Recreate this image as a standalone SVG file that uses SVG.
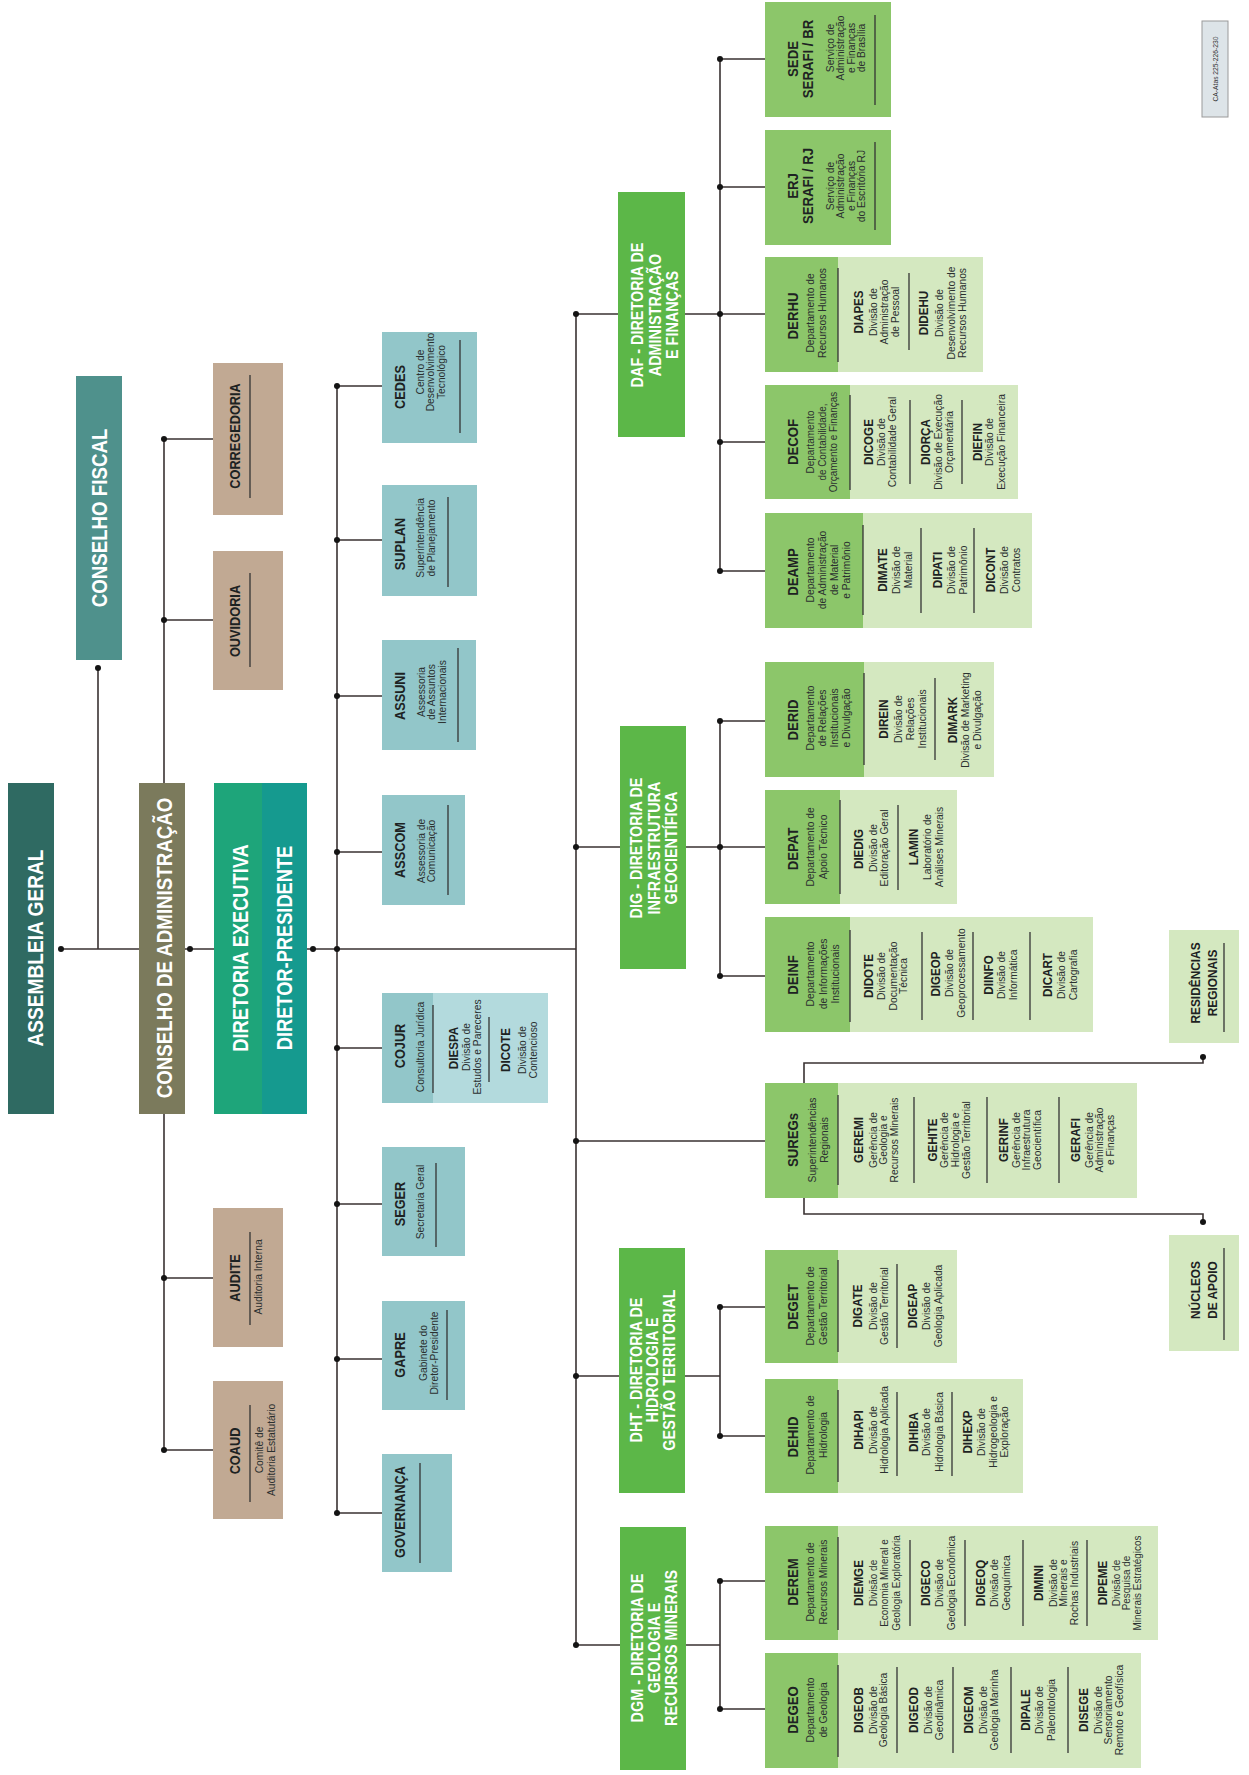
<svg xmlns="http://www.w3.org/2000/svg" width="1249" height="1775" viewBox="0 0 1249 1775">
<style>
text{font-family:"Liberation Sans",Arial,sans-serif;text-anchor:middle}
.h{font-size:22px;font-weight:bold;fill:#fff}
.dr{font-size:16px;font-weight:bold;fill:#fff}
.t1{font-size:15px;font-weight:bold;fill:#1d2222}
.t2{font-size:13.5px;font-weight:bold;fill:#1d2222}
.d{font-size:10.8px;fill:#2b3030}
.r{stroke:#333;stroke-width:1.3}
.c{stroke:#3a3232;stroke-width:1.6;fill:none}
.dot{fill:#141414}
.ag{fill:#2f6a62}.cf{fill:#4f918c}.ca{fill:#7b7a5c}
.bg{fill:#c1a993}.st{fill:#92c6c9}.st2{fill:#b3dadd}
.dg{fill:#5cb748}.dk{fill:#8cc66a}.lt{fill:#d4e8c0}
</style>
<rect width="1249" height="1775" fill="#fff"/>
<g id="connectors" class="c">
<path d="M61 949H139M98 668V949M185 949H214M164 439V783M164 1114V1450M164 439H213M164 620H213M164 1278H213M164 1450H213"/>
<path d="M307 949H576M337 386V1513M337 386H382M337 540H382M337 696H382M337 852H382M337 1048H382M337 1204H382M337 1359H382M337 1513H382"/>
<path d="M576 314V1645M576 314H618M685 314H720M576 847H620M686 847H720M576 1141H765M576 1376H619M685 1376H720M576 1645H620M686 1645H720"/>
<path d="M720 59V571M720 59H765M720 187H765M720 314H765M720 442H765M720 571H765M720 721V976M720 721H765M720 847H765M720 976H765"/>
<path d="M720 1307V1436M720 1307H765M720 1436H765M720 1581V1709M720 1581H765M720 1709H765"/>
<path d="M804 1083V1063H1203V1057M804 1198V1214H1203V1222"/>
<g class="dot" stroke="none">
<circle cx="61" cy="949" r="3"/><circle cx="98" cy="668" r="3"/><circle cx="190" cy="949" r="3"/>
<circle cx="164" cy="439" r="3"/><circle cx="164" cy="620" r="3"/><circle cx="164" cy="1278" r="3"/><circle cx="164" cy="1450" r="3"/>
<circle cx="313" cy="949" r="3"/><circle cx="337" cy="949" r="3"/>
<circle cx="337" cy="386" r="3"/><circle cx="337" cy="540" r="3"/><circle cx="337" cy="696" r="3"/><circle cx="337" cy="852" r="3"/><circle cx="337" cy="1048" r="3"/><circle cx="337" cy="1204" r="3"/><circle cx="337" cy="1359" r="3"/><circle cx="337" cy="1513" r="3"/>
<circle cx="576" cy="314" r="3"/><circle cx="576" cy="847" r="3"/><circle cx="576" cy="1141" r="3"/><circle cx="576" cy="1376" r="3"/><circle cx="576" cy="1645" r="3"/>
<circle cx="720" cy="59" r="3"/><circle cx="720" cy="187" r="3"/><circle cx="720" cy="314" r="3"/><circle cx="720" cy="442" r="3"/><circle cx="720" cy="571" r="3"/>
<circle cx="720" cy="721" r="3"/><circle cx="720" cy="847" r="3"/><circle cx="720" cy="976" r="3"/>
<circle cx="720" cy="1307" r="3"/><circle cx="720" cy="1436" r="3"/><circle cx="720" cy="1581" r="3"/><circle cx="720" cy="1709" r="3"/>
<circle cx="1203" cy="1057" r="3"/><circle cx="1203" cy="1222" r="3"/>
</g>
</g>

<g id="assembleia"><rect class="ag" x="8" y="783" width="46" height="331"/>
<text class="h" transform="translate(43,948) rotate(-90) scale(.87,1)">ASSEMBLEIA GERAL</text></g>
<g id="conselho-fiscal"><rect class="cf" x="76" y="376" width="46" height="284"/>
<text class="h" transform="translate(107,518) rotate(-90) scale(.85,1)">CONSELHO FISCAL</text></g>
<g id="conselho-adm"><rect class="ca" x="139" y="783" width="46" height="331"/>
<text class="h" transform="translate(172,948) rotate(-90) scale(.85,1)">CONSELHO DE ADMINISTRAÇÃO</text></g>
<g id="diretoria-executiva"><rect x="214" y="783" width="48" height="331" fill="#1ea57a"/><rect x="262" y="783" width="45" height="331" fill="#159a8f"/>
<text class="h" transform="translate(248,948) rotate(-90) scale(.83,1)">DIRETORIA EXECUTIVA</text>
<text class="h" transform="translate(292,948) rotate(-90) scale(.83,1)">DIRETOR-PRESIDENTE</text></g>

<g id="corregedoria"><rect class="bg" x="213" y="363" width="70" height="152"/>
<text class="t1" transform="translate(240,436) rotate(-90) scale(.85,1)">CORREGEDORIA</text><line class="r" x1="250" y1="375" x2="250" y2="498"/></g>
<g id="ouvidoria"><rect class="bg" x="213" y="551" width="70" height="139"/>
<text class="t1" transform="translate(240,621) rotate(-90) scale(.85,1)">OUVIDORIA</text><line class="r" x1="250" y1="573" x2="250" y2="667"/></g>
<g id="audite"><rect class="bg" x="213" y="1208" width="70" height="139"/>
<text class="t1" transform="translate(240,1278) rotate(-90) scale(.85,1)">AUDITE</text><line class="r" x1="250" y1="1232" x2="250" y2="1325"/>
<text class="d" transform="translate(262,1277) rotate(-90) scale(.95,1)">Auditoria Interna</text></g>
<g id="coaud"><rect class="bg" x="213" y="1381" width="70" height="138"/>
<text class="t1" transform="translate(240,1451) rotate(-90) scale(.85,1)">COAUD</text><line class="r" x1="250" y1="1405" x2="250" y2="1502"/>
<text class="d" transform="translate(263,1450) rotate(-90) scale(.95,1)"><tspan x="0" y="0">Comitê de</tspan><tspan x="0" y="12">Auditoria Estatutário</tspan></text></g>

<g id="cedes"><rect class="st" x="382" y="332" width="95" height="111"/>
<text class="t1" transform="translate(405,387) rotate(-90) scale(.85,1)">CEDES</text>
<text class="d" transform="translate(424,372) rotate(-90) scale(.95,1)"><tspan x="0" y="0">Centro de</tspan><tspan x="0" y="10.5">Desenvolvimento</tspan><tspan x="0" y="21">Tecnológico</tspan></text>
<line class="r" x1="460" y1="340" x2="460" y2="433"/></g>
<g id="suplan"><rect class="st" x="382" y="485" width="95" height="111"/>
<text class="t1" transform="translate(405,544) rotate(-90) scale(.85,1)">SUPLAN</text>
<text class="d" transform="translate(424,538) rotate(-90) scale(.95,1)"><tspan x="0" y="0">Superintendência</tspan><tspan x="0" y="11">de Planejamento</tspan></text>
<line class="r" x1="448" y1="497" x2="448" y2="587"/></g>
<g id="assuni"><rect class="st" x="382" y="640" width="94" height="110"/>
<text class="t1" transform="translate(405,696) rotate(-90) scale(.85,1)">ASSUNI</text>
<text class="d" transform="translate(425,692) rotate(-90) scale(.95,1)"><tspan x="0" y="0">Assessoria</tspan><tspan x="0" y="10.5">de Assuntos</tspan><tspan x="0" y="21">Internacionais</tspan></text>
<line class="r" x1="458" y1="648" x2="458" y2="742"/></g>
<g id="asscom"><rect class="st" x="382" y="795" width="83" height="110"/>
<text class="t1" transform="translate(405,850) rotate(-90) scale(.85,1)">ASSCOM</text>
<text class="d" transform="translate(425,851) rotate(-90) scale(.95,1)"><tspan x="0" y="0">Assessoria de</tspan><tspan x="0" y="10.5">Comunicação</tspan></text>
<line class="r" x1="448" y1="805" x2="448" y2="895"/></g>
<g id="cojur"><rect class="st" x="382" y="993" width="51" height="110"/><rect class="st2" x="433" y="993" width="115" height="110"/>
<text class="t1" transform="translate(405,1046) rotate(-90) scale(.85,1)">COJUR</text>
<text class="d" transform="translate(424,1047) rotate(-90) scale(.95,1)">Consultoria Jurídica</text>
<line class="r" x1="433" y1="1005" x2="433" y2="1093"/>
<text class="t2" transform="translate(458,1048) rotate(-90) scale(.86,1)">DIESPA</text>
<text class="d" transform="translate(470,1047) rotate(-90) scale(.95,1)"><tspan x="0" y="0">Divisão de</tspan><tspan x="0" y="11">Estudos e Pareceres</tspan></text>
<line class="r" x1="489" y1="1017" x2="489" y2="1082"/>
<text class="t2" transform="translate(510,1050) rotate(-90) scale(.86,1)">DICOTE</text>
<text class="d" transform="translate(526,1050) rotate(-90) scale(.95,1)"><tspan x="0" y="0">Divisão de</tspan><tspan x="0" y="11">Contencioso</tspan></text></g>
<g id="seger"><rect class="st" x="382" y="1147" width="83" height="109"/>
<text class="t1" transform="translate(405,1204) rotate(-90) scale(.85,1)">SEGER</text>
<text class="d" transform="translate(424,1202) rotate(-90) scale(.95,1)">Secretaria Geral</text>
<line class="r" x1="436" y1="1163" x2="436" y2="1247"/></g>
<g id="gapre"><rect class="st" x="382" y="1301" width="83" height="109"/>
<text class="t1" transform="translate(405,1355) rotate(-90) scale(.85,1)">GAPRE</text>
<text class="d" transform="translate(427,1353) rotate(-90) scale(.95,1)"><tspan x="0" y="0">Gabinete do</tspan><tspan x="0" y="11">Diretor-Presidente</tspan></text>
<line class="r" x1="447" y1="1310" x2="447" y2="1400"/></g>
<g id="governanca"><rect class="st" x="382" y="1454" width="70" height="118"/>
<text class="t1" transform="translate(405,1512) rotate(-90) scale(.85,1)">GOVERNANÇA</text>
<line class="r" x1="420" y1="1463" x2="420" y2="1563"/></g>

<g id="daf"><rect class="dg" x="618" y="192" width="67" height="245"/>
<text class="dr" transform="translate(643,315) rotate(-90) scale(.9,1)"><tspan x="0" y="0">DAF - DIRETORIA DE</tspan><tspan x="0" y="18">ADMINISTRAÇÃO</tspan><tspan x="0" y="35">E FINANÇAS</tspan></text></g>
<g id="dig"><rect class="dg" x="620" y="726" width="66" height="243"/>
<text class="dr" transform="translate(642,848) rotate(-90) scale(.9,1)"><tspan x="0" y="0">DIG - DIRETORIA DE</tspan><tspan x="0" y="18">INFRAESTRUTURA</tspan><tspan x="0" y="35">GEOCIENTÍFICA</tspan></text></g>
<g id="dht"><rect class="dg" x="619" y="1248" width="66" height="245"/>
<text class="dr" transform="translate(642,1370) rotate(-90) scale(.9,1)"><tspan x="0" y="0">DHT - DIRETORIA DE</tspan><tspan x="0" y="16.5">HIDROLOGIA E</tspan><tspan x="0" y="33">GESTÃO TERRITORIAL</tspan></text></g>
<g id="dgm"><rect class="dg" x="620" y="1527" width="66" height="243"/>
<text class="dr" transform="translate(643,1648) rotate(-90) scale(.9,1)"><tspan x="0" y="0">DGM - DIRETORIA DE</tspan><tspan x="0" y="17">GEOLOGIA E</tspan><tspan x="0" y="34">RECURSOS MINERAIS</tspan></text></g>

<g id="sede"><rect class="dk" x="765" y="2" width="126" height="115"/>
<text class="t1" transform="translate(798,59) rotate(-90) scale(.88,1)"><tspan x="0" y="0">SEDE</tspan><tspan x="0" y="15">SERAFI / BR</tspan></text>
<text class="d" transform="translate(834,48) rotate(-90) scale(.95,1)"><tspan x="0" y="0">Serviço de</tspan><tspan x="0" y="10.5">Administração</tspan><tspan x="0" y="21">e Finanças</tspan><tspan x="0" y="31.5">de Brasília</tspan></text>
<line class="r" x1="875" y1="15" x2="875" y2="105"/></g>
<g id="erj"><rect class="dk" x="765" y="130" width="126" height="115"/>
<text class="t1" transform="translate(798,186) rotate(-90) scale(.88,1)"><tspan x="0" y="0">ERJ</tspan><tspan x="0" y="15">SERAFI / RJ</tspan></text>
<text class="d" transform="translate(834,186) rotate(-90) scale(.95,1)"><tspan x="0" y="0">Serviço de</tspan><tspan x="0" y="10.5">Administração</tspan><tspan x="0" y="21">e Finanças</tspan><tspan x="0" y="31.5">do Escritório RJ</tspan></text>
<line class="r" x1="875" y1="142" x2="875" y2="230"/></g>

<g id="derhu"><rect class="dk" x="765" y="257" width="73" height="115"/><rect class="lt" x="838" y="257" width="145" height="115"/>
<text class="t1" transform="translate(798,316) rotate(-90) scale(.88,1)">DERHU</text>
<text class="d" transform="translate(814,313) rotate(-90) scale(.95,1)"><tspan x="0" y="0">Departamento de</tspan><tspan x="0" y="12">Recursos Humanos</tspan></text>
<line class="r" x1="838" y1="268" x2="838" y2="362"/>
<text class="t2" transform="translate(863,312) rotate(-90) scale(.86,1)">DIAPES</text>
<text class="d" transform="translate(877,312) rotate(-90) scale(.95,1)"><tspan x="0" y="0">Divisão de</tspan><tspan x="0" y="11">Administração</tspan><tspan x="0" y="22">de Pessoal</tspan></text>
<line class="r" x1="909" y1="273" x2="909" y2="350"/>
<text class="t2" transform="translate(928,313) rotate(-90) scale(.86,1)">DIDEHU</text>
<text class="d" transform="translate(943,313) rotate(-90) scale(.95,1)"><tspan x="0" y="0">Divisão de</tspan><tspan x="0" y="12">Desenvolvimento de</tspan><tspan x="0" y="23">Recursos Humanos</tspan></text></g>

<g id="decof"><rect class="dk" x="765" y="385" width="85" height="114"/><rect class="lt" x="850" y="385" width="168" height="114"/>
<text class="t1" transform="translate(798,442) rotate(-90) scale(.88,1)">DECOF</text>
<text class="d" transform="translate(814,442) rotate(-90) scale(.92,1)"><tspan x="0" y="0">Departamento</tspan><tspan x="0" y="12">de Contabilidade,</tspan><tspan x="0" y="23">Orçamento e Finanças</tspan></text>
<line class="r" x1="850" y1="395" x2="850" y2="490"/>
<text class="t2" transform="translate(873,442) rotate(-90) scale(.86,1)">DICOGE</text>
<text class="d" transform="translate(885,442) rotate(-90) scale(.95,1)"><tspan x="0" y="0">Divisão de</tspan><tspan x="0" y="11.5">Contabilidade Geral</tspan></text>
<line class="r" x1="910" y1="400" x2="910" y2="484"/>
<text class="t2" transform="translate(930,442) rotate(-90) scale(.86,1)">DIORÇA</text>
<text class="d" transform="translate(942,442) rotate(-90) scale(.95,1)"><tspan x="0" y="0">Divisão de Execução</tspan><tspan x="0" y="11">Orçamentária</tspan></text>
<line class="r" x1="962" y1="400" x2="962" y2="484"/>
<text class="t2" transform="translate(982,442) rotate(-90) scale(.86,1)">DIEFIN</text>
<text class="d" transform="translate(993,442) rotate(-90) scale(.95,1)"><tspan x="0" y="0">Divisão de</tspan><tspan x="0" y="12">Execução Financeira</tspan></text></g>

<g id="deamp"><rect class="dk" x="765" y="513" width="98" height="115"/><rect class="lt" x="863" y="513" width="169" height="115"/>
<text class="t1" transform="translate(798,572) rotate(-90) scale(.88,1)">DEAMP</text>
<text class="d" transform="translate(814,570) rotate(-90) scale(.95,1)"><tspan x="0" y="0">Departamento</tspan><tspan x="0" y="12">de Administração</tspan><tspan x="0" y="24">de Material</tspan><tspan x="0" y="36">e Patrimônio</tspan></text>
<line class="r" x1="863" y1="525" x2="863" y2="615"/>
<text class="t2" transform="translate(887,570) rotate(-90) scale(.86,1)">DIMATE</text>
<text class="d" transform="translate(900,570) rotate(-90) scale(.95,1)"><tspan x="0" y="0">Divisão de</tspan><tspan x="0" y="12">Material</tspan></text>
<line class="r" x1="921" y1="528" x2="921" y2="613"/>
<text class="t2" transform="translate(942,570) rotate(-90) scale(.86,1)">DIPATI</text>
<text class="d" transform="translate(955,570) rotate(-90) scale(.95,1)"><tspan x="0" y="0">Divisão de</tspan><tspan x="0" y="12">Patrimônio</tspan></text>
<line class="r" x1="974" y1="528" x2="974" y2="613"/>
<text class="t2" transform="translate(995,570) rotate(-90) scale(.86,1)">DICONT</text>
<text class="d" transform="translate(1008,570) rotate(-90) scale(.95,1)"><tspan x="0" y="0">Divisão de</tspan><tspan x="0" y="12">Contratos</tspan></text></g>

<g id="derid"><rect class="dk" x="765" y="662" width="99" height="115"/><rect class="lt" x="864" y="662" width="130" height="115"/>
<text class="t1" transform="translate(798,720) rotate(-90) scale(.88,1)">DERID</text>
<text class="d" transform="translate(814,718) rotate(-90) scale(.95,1)"><tspan x="0" y="0">Departamento</tspan><tspan x="0" y="12">de Relações</tspan><tspan x="0" y="24.5">Institucionais</tspan><tspan x="0" y="36.5">e Divulgação</tspan></text>
<line class="r" x1="864" y1="673" x2="864" y2="765"/>
<text class="t2" transform="translate(888,719) rotate(-90) scale(.86,1)">DIREIN</text>
<text class="d" transform="translate(902,719) rotate(-90) scale(.95,1)"><tspan x="0" y="0">Divisão de</tspan><tspan x="0" y="12">Relações</tspan><tspan x="0" y="24">Institucionais</tspan></text>
<line class="r" x1="935" y1="678" x2="935" y2="760"/>
<text class="t2" transform="translate(957,720) rotate(-90) scale(.86,1)">DIMARK</text>
<text class="d" transform="translate(969,720) rotate(-90) scale(.95,1)"><tspan x="0" y="0">Divisão de Marketing</tspan><tspan x="0" y="12">e Divulgação</tspan></text></g>

<g id="depat"><rect class="dk" x="765" y="790" width="75" height="114"/><rect class="lt" x="840" y="790" width="117" height="114"/>
<text class="t1" transform="translate(798,849) rotate(-90) scale(.88,1)">DEPAT</text>
<text class="d" transform="translate(814,847) rotate(-90) scale(.95,1)"><tspan x="0" y="0">Departamento de</tspan><tspan x="0" y="13">Apoio Técnico</tspan></text>
<line class="r" x1="840" y1="800" x2="840" y2="894"/>
<text class="t2" transform="translate(863,849) rotate(-90) scale(.86,1)">DIEDIG</text>
<text class="d" transform="translate(877,848) rotate(-90) scale(.95,1)"><tspan x="0" y="0">Divisão de</tspan><tspan x="0" y="11">Editoração Geral</tspan></text>
<line class="r" x1="898" y1="805" x2="898" y2="890"/>
<text class="t2" transform="translate(918,847) rotate(-90) scale(.86,1)">LAMIN</text>
<text class="d" transform="translate(931,847) rotate(-90) scale(.95,1)"><tspan x="0" y="0">Laboratório de</tspan><tspan x="0" y="12">Análises Minerais</tspan></text></g>

<g id="deinf"><rect class="dk" x="765" y="917" width="85" height="115"/><rect class="lt" x="850" y="917" width="243" height="115"/>
<text class="t1" transform="translate(798,975) rotate(-90) scale(.88,1)">DEINF</text>
<text class="d" transform="translate(814,974) rotate(-90) scale(.95,1)"><tspan x="0" y="0">Departamento</tspan><tspan x="0" y="13">de Informações</tspan><tspan x="0" y="25">Institucionais</tspan></text>
<line class="r" x1="850" y1="930" x2="850" y2="1022"/>
<text class="t2" transform="translate(873,976) rotate(-90) scale(.86,1)">DIDOTE</text>
<text class="d" transform="translate(885,976) rotate(-90) scale(.95,1)"><tspan x="0" y="0">Divisão de</tspan><tspan x="0" y="12">Documentação</tspan><tspan x="0" y="22">Técnica</tspan></text>
<line class="r" x1="922" y1="932" x2="922" y2="1020"/>
<text class="t2" transform="translate(940,974) rotate(-90) scale(.86,1)">DIGEOP</text>
<text class="d" transform="translate(953,973) rotate(-90) scale(.95,1)"><tspan x="0" y="0">Divisão de</tspan><tspan x="0" y="12">Geoprocessamento</tspan></text>
<line class="r" x1="973" y1="932" x2="973" y2="1020"/>
<text class="t2" transform="translate(993,975) rotate(-90) scale(.86,1)">DIINFO</text>
<text class="d" transform="translate(1005,975) rotate(-90) scale(.95,1)"><tspan x="0" y="0">Divisão de</tspan><tspan x="0" y="12">Informática</tspan></text>
<line class="r" x1="1030" y1="932" x2="1030" y2="1020"/>
<text class="t2" transform="translate(1052,975) rotate(-90) scale(.86,1)">DICART</text>
<text class="d" transform="translate(1065,975) rotate(-90) scale(.95,1)"><tspan x="0" y="0">Divisão de</tspan><tspan x="0" y="12">Cartografia</tspan></text></g>

<g id="suregs"><rect class="dk" x="765" y="1083" width="73" height="115"/><rect class="lt" x="838" y="1083" width="299" height="115"/>
<text class="t1" transform="translate(798,1140) rotate(-90) scale(.88,1)">SUREGs</text>
<text class="d" transform="translate(816,1140) rotate(-90) scale(.95,1)"><tspan x="0" y="0">Superintendências</tspan><tspan x="0" y="12">Regionais</tspan></text>
<line class="r" x1="838" y1="1095" x2="838" y2="1185"/>
<text class="t2" transform="translate(863,1140) rotate(-90) scale(.86,1)">GEREMI</text>
<text class="d" transform="translate(877,1140) rotate(-90) scale(.95,1)"><tspan x="0" y="0">Gerência de</tspan><tspan x="0" y="10.5">Geologia e</tspan><tspan x="0" y="21">Recursos Minerais</tspan></text>
<line class="r" x1="914" y1="1097" x2="914" y2="1183"/>
<text class="t2" transform="translate(937,1140) rotate(-90) scale(.86,1)">GEHITE</text>
<text class="d" transform="translate(948,1140) rotate(-90) scale(.95,1)"><tspan x="0" y="0">Gerência de</tspan><tspan x="0" y="11">Hidrologia e</tspan><tspan x="0" y="22">Gestão Territorial</tspan></text>
<line class="r" x1="987" y1="1097" x2="987" y2="1183"/>
<text class="t2" transform="translate(1008,1140) rotate(-90) scale(.86,1)">GERINF</text>
<text class="d" transform="translate(1020,1140) rotate(-90) scale(.95,1)"><tspan x="0" y="0">Gerência de</tspan><tspan x="0" y="10.5">Infraestrutura</tspan><tspan x="0" y="21.5">Geocientífica</tspan></text>
<line class="r" x1="1059" y1="1097" x2="1059" y2="1183"/>
<text class="t2" transform="translate(1080,1140) rotate(-90) scale(.86,1)">GERAFI</text>
<text class="d" transform="translate(1093,1140) rotate(-90) scale(.95,1)"><tspan x="0" y="0">Gerência de</tspan><tspan x="0" y="10.5">Administração</tspan><tspan x="0" y="21.5">e Finanças</tspan></text></g>

<g id="deget"><rect class="dk" x="765" y="1250" width="73" height="113"/><rect class="lt" x="838" y="1250" width="119" height="113"/>
<text class="t1" transform="translate(798,1307) rotate(-90) scale(.88,1)">DEGET</text>
<text class="d" transform="translate(814,1306) rotate(-90) scale(.95,1)"><tspan x="0" y="0">Departamento de</tspan><tspan x="0" y="13">Gestão Territorial</tspan></text>
<line class="r" x1="838" y1="1260" x2="838" y2="1352"/>
<text class="t2" transform="translate(862,1306) rotate(-90) scale(.86,1)">DIGATE</text>
<text class="d" transform="translate(877,1306) rotate(-90) scale(.95,1)"><tspan x="0" y="0">Divisão de</tspan><tspan x="0" y="11">Gestão Territorial</tspan></text>
<line class="r" x1="897" y1="1264" x2="897" y2="1348"/>
<text class="t2" transform="translate(917,1306) rotate(-90) scale(.86,1)">DIGEAP</text>
<text class="d" transform="translate(930,1306) rotate(-90) scale(.95,1)"><tspan x="0" y="0">Divisão de</tspan><tspan x="0" y="12">Geologia Aplicada</tspan></text></g>

<g id="dehid"><rect class="dk" x="765" y="1379" width="73" height="114"/><rect class="lt" x="838" y="1379" width="185" height="114"/>
<text class="t1" transform="translate(798,1437) rotate(-90) scale(.88,1)">DEHID</text>
<text class="d" transform="translate(814,1435) rotate(-90) scale(.95,1)"><tspan x="0" y="0">Departamento de</tspan><tspan x="0" y="13">Hidrologia</tspan></text>
<line class="r" x1="838" y1="1390" x2="838" y2="1482"/>
<text class="t2" transform="translate(863,1430) rotate(-90) scale(.86,1)">DIHAPI</text>
<text class="d" transform="translate(877,1430) rotate(-90) scale(.95,1)"><tspan x="0" y="0">Divisão de</tspan><tspan x="0" y="11">Hidrologia Aplicada</tspan></text>
<line class="r" x1="897" y1="1392" x2="897" y2="1476"/>
<text class="t2" transform="translate(918,1432) rotate(-90) scale(.86,1)">DIHIBA</text>
<text class="d" transform="translate(930,1432) rotate(-90) scale(.95,1)"><tspan x="0" y="0">Divisão de</tspan><tspan x="0" y="13">Hidrologia Básica</tspan></text>
<line class="r" x1="952" y1="1392" x2="952" y2="1476"/>
<text class="t2" transform="translate(972,1432) rotate(-90) scale(.86,1)">DIHEXP</text>
<text class="d" transform="translate(985,1432) rotate(-90) scale(.95,1)"><tspan x="0" y="0">Divisão de</tspan><tspan x="0" y="12">Hidrogeologia e</tspan><tspan x="0" y="23">Exploração</tspan></text></g>

<g id="derem"><rect class="dk" x="765" y="1526" width="73" height="114"/><rect class="lt" x="838" y="1526" width="320" height="114"/>
<text class="t1" transform="translate(798,1582) rotate(-90) scale(.88,1)">DEREM</text>
<text class="d" transform="translate(814,1582) rotate(-90) scale(.95,1)"><tspan x="0" y="0">Departamento de</tspan><tspan x="0" y="13">Recursos Minerais</tspan></text>
<line class="r" x1="838" y1="1537" x2="838" y2="1630"/>
<text class="t2" transform="translate(863,1583) rotate(-90) scale(.86,1)">DIEMGE</text>
<text class="d" transform="translate(877,1583) rotate(-90) scale(.92,1)"><tspan x="0" y="0">Divisão de</tspan><tspan x="0" y="11">Economia Mineral e</tspan><tspan x="0" y="23">Geologia Exploratória</tspan></text>
<line class="r" x1="910" y1="1540" x2="910" y2="1626"/>
<text class="t2" transform="translate(930,1583) rotate(-90) scale(.86,1)">DIGECO</text>
<text class="d" transform="translate(943,1583) rotate(-90) scale(.95,1)"><tspan x="0" y="0">Divisão de</tspan><tspan x="0" y="12">Geologia Econômica</tspan></text>
<line class="r" x1="965" y1="1540" x2="965" y2="1626"/>
<text class="t2" transform="translate(985,1583) rotate(-90) scale(.86,1)">DIGEOQ</text>
<text class="d" transform="translate(998,1583) rotate(-90) scale(.95,1)"><tspan x="0" y="0">Divisão de</tspan><tspan x="0" y="12">Geoquímica</tspan></text>
<line class="r" x1="1023" y1="1540" x2="1023" y2="1626"/>
<text class="t2" transform="translate(1043,1583) rotate(-90) scale(.86,1)">DIMINI</text>
<text class="d" transform="translate(1057,1583) rotate(-90) scale(.95,1)"><tspan x="0" y="0">Divisão de</tspan><tspan x="0" y="10.5">Minerais e</tspan><tspan x="0" y="21">Rochas Industriais</tspan></text>
<line class="r" x1="1087" y1="1540" x2="1087" y2="1626"/>
<text class="t2" transform="translate(1107,1583) rotate(-90) scale(.86,1)">DIPEME</text>
<text class="d" transform="translate(1120,1583) rotate(-90) scale(.92,1)"><tspan x="0" y="0">Divisão de</tspan><tspan x="0" y="10.5">Pesquisa de</tspan><tspan x="0" y="21.5">Minerais Estratégicos</tspan></text></g>

<g id="degeo"><rect class="dk" x="765" y="1653" width="73" height="115"/><rect class="lt" x="838" y="1653" width="303" height="115"/>
<text class="t1" transform="translate(798,1710) rotate(-90) scale(.88,1)">DEGEO</text>
<text class="d" transform="translate(814,1710) rotate(-90) scale(.95,1)"><tspan x="0" y="0">Departamento</tspan><tspan x="0" y="13">de Geologia</tspan></text>
<line class="r" x1="838" y1="1665" x2="838" y2="1757"/>
<text class="t2" transform="translate(863,1710) rotate(-90) scale(.86,1)">DIGEOB</text>
<text class="d" transform="translate(877,1710) rotate(-90) scale(.95,1)"><tspan x="0" y="0">Divisão de</tspan><tspan x="0" y="10.5">Geologia Básica</tspan></text>
<line class="r" x1="897" y1="1667" x2="897" y2="1753"/>
<text class="t2" transform="translate(918,1710) rotate(-90) scale(.86,1)">DIGEOD</text>
<text class="d" transform="translate(932,1710) rotate(-90) scale(.95,1)"><tspan x="0" y="0">Divisão de</tspan><tspan x="0" y="11">Geodinâmica</tspan></text>
<line class="r" x1="953" y1="1667" x2="953" y2="1753"/>
<text class="t2" transform="translate(973,1710) rotate(-90) scale(.86,1)">DIGEOM</text>
<text class="d" transform="translate(987,1710) rotate(-90) scale(.95,1)"><tspan x="0" y="0">Divisão de</tspan><tspan x="0" y="11">Geologia Marinha</tspan></text>
<line class="r" x1="1011" y1="1667" x2="1011" y2="1753"/>
<text class="t2" transform="translate(1030,1710) rotate(-90) scale(.86,1)">DIPALE</text>
<text class="d" transform="translate(1043,1710) rotate(-90) scale(.95,1)"><tspan x="0" y="0">Divisão de</tspan><tspan x="0" y="12">Paleontologia</tspan></text>
<line class="r" x1="1068" y1="1667" x2="1068" y2="1753"/>
<text class="t2" transform="translate(1088,1710) rotate(-90) scale(.86,1)">DISEGE</text>
<text class="d" transform="translate(1102,1710) rotate(-90) scale(.95,1)"><tspan x="0" y="0">Divisão de</tspan><tspan x="0" y="10.5">Sensoriamento</tspan><tspan x="0" y="21.5">Remoto e Geofísica</tspan></text></g>

<g id="residencias"><rect class="lt" x="1169" y="930" width="70" height="113"/>
<text class="t2" transform="translate(1200,983) rotate(-90) scale(.88,1)"><tspan x="0" y="0">RESIDÊNCIAS</tspan><tspan x="0" y="17">REGIONAIS</tspan></text>
<line class="r" x1="1224" y1="943" x2="1224" y2="1032"/></g>
<g id="nucleos"><rect class="lt" x="1169" y="1235" width="70" height="116"/>
<text class="t2" transform="translate(1200,1290) rotate(-90) scale(.88,1)"><tspan x="0" y="0">NÚCLEOS</tspan><tspan x="0" y="17">DE APOIO</tspan></text>
<line class="r" x1="1224" y1="1248" x2="1224" y2="1340"/></g>

<g id="stamp"><rect x="1202" y="21" width="26" height="96" fill="#dde4e8" stroke="#9a9a9a" stroke-width="1"/>
<text transform="translate(1218,69) rotate(-90) scale(.9,1)" style="font-size:7.5px;fill:#333">CA-Atas 225-226-230</text></g>
</svg>
